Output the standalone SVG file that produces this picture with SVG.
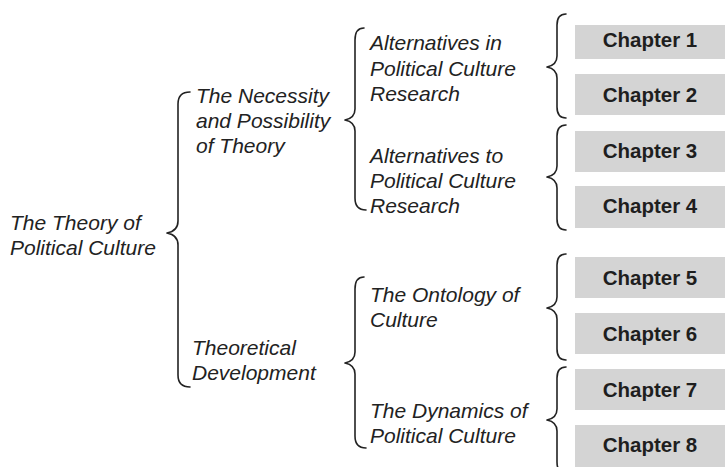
<svg xmlns="http://www.w3.org/2000/svg" width="725" height="467" viewBox="0 0 725 467">
  <style>
    .lbl { font-family: "Liberation Sans", Arial, sans-serif; font-style: italic; font-size: 21px; fill: #222; }
    .ch rect { fill: #d4d4d4; }
    .ch text { font-family: "Liberation Sans", Arial, sans-serif; font-weight: bold; font-size: 20.5px; fill: #1e1e1e; text-anchor: middle; }
    .brace { fill: none; stroke: #222; stroke-width: 1.6; stroke-linecap: round; stroke-linejoin: round; }
  </style>

  <rect width="725" height="467" fill="#ffffff"/>

  <!-- connectors: curly braces -->
  <g id="connectors">
    <!-- level 1 -->
    <path class="brace" d="M190,92 Q178,92 178,104 L178,221 Q178,231 167,233 Q178,235 178,245 L178,375 Q178,387 190,387"/>
    <!-- level 2 -->
    <path class="brace" d="M364,28 Q355,28 355,40 L355,109 Q355,118 345,120 Q355,122 355,131 L355,198 Q355,210 366,210"/>
    <path class="brace" d="M364,277 Q355,277 355,289 L355,352 Q355,361 345,363 Q355,365 355,374 L355,436 Q355,448 366,448"/>
    <!-- level 3 -->
    <path class="brace" d="M566,14 Q557,14 557,25 L557,56 Q557,65 547,67 Q557,69 557,78 L557,107 Q557,118 566,118"/>
    <path class="brace" d="M566,125 Q557,125 557,136 L557,166 Q557,175 547,177 Q557,179 557,188 L557,219 Q557,230 566,230"/>
    <path class="brace" d="M566,254 Q557,254 557,265 L557,297 Q557,306 547,308 Q557,310 557,319 L557,349 Q557,360 566,360"/>
    <path class="brace" d="M566,367 Q557,367 557,378 L557,409 Q557,418 547,420 Q557,422 557,431 L557,462 Q557,473 566,473"/>
  </g>

  <g id="root">
    <text class="lbl" x="10" y="230">The Theory of</text>
    <text class="lbl" x="10" y="255">Political Culture</text>
  </g>

  <g id="necessity">
    <text class="lbl" x="196" y="103">The Necessity</text>
    <text class="lbl" x="196" y="128">and Possibility</text>
    <text class="lbl" x="196" y="153">of Theory</text>
  </g>

  <g id="development">
    <text class="lbl" x="192" y="355">Theoretical</text>
    <text class="lbl" x="192" y="380">Development</text>
  </g>

  <g id="alt-in">
    <text class="lbl" x="370" y="50">Alternatives in</text>
    <text class="lbl" x="370" y="76">Political Culture</text>
    <text class="lbl" x="370" y="101">Research</text>
  </g>

  <g id="alt-to">
    <text class="lbl" x="370" y="163">Alternatives to</text>
    <text class="lbl" x="370" y="188">Political Culture</text>
    <text class="lbl" x="370" y="213">Research</text>
  </g>

  <g id="ontology">
    <text class="lbl" x="370" y="302">The Ontology of</text>
    <text class="lbl" x="370" y="327">Culture</text>
  </g>

  <g id="dynamics">
    <text class="lbl" x="370" y="418">The Dynamics of</text>
    <text class="lbl" x="370" y="443">Political Culture</text>
  </g>

  <g id="chapter1" class="ch"><rect x="575" y="25" width="150" height="34"/><text x="650" y="47">Chapter 1</text></g>
  <g id="chapter2" class="ch"><rect x="575" y="74" width="150" height="41"/><text x="650" y="102">Chapter 2</text></g>
  <g id="chapter3" class="ch"><rect x="575" y="131" width="150" height="41"/><text x="650" y="158">Chapter 3</text></g>
  <g id="chapter4" class="ch"><rect x="575" y="186" width="150" height="42"/><text x="650" y="213">Chapter 4</text></g>
  <g id="chapter5" class="ch"><rect x="575" y="257" width="150" height="41"/><text x="650" y="285">Chapter 5</text></g>
  <g id="chapter6" class="ch"><rect x="575" y="313" width="150" height="41"/><text x="650" y="341">Chapter 6</text></g>
  <g id="chapter7" class="ch"><rect x="575" y="369" width="150" height="41"/><text x="650" y="397">Chapter 7</text></g>
  <g id="chapter8" class="ch"><rect x="575" y="425" width="150" height="42"/><text x="650" y="452">Chapter 8</text></g>
</svg>
